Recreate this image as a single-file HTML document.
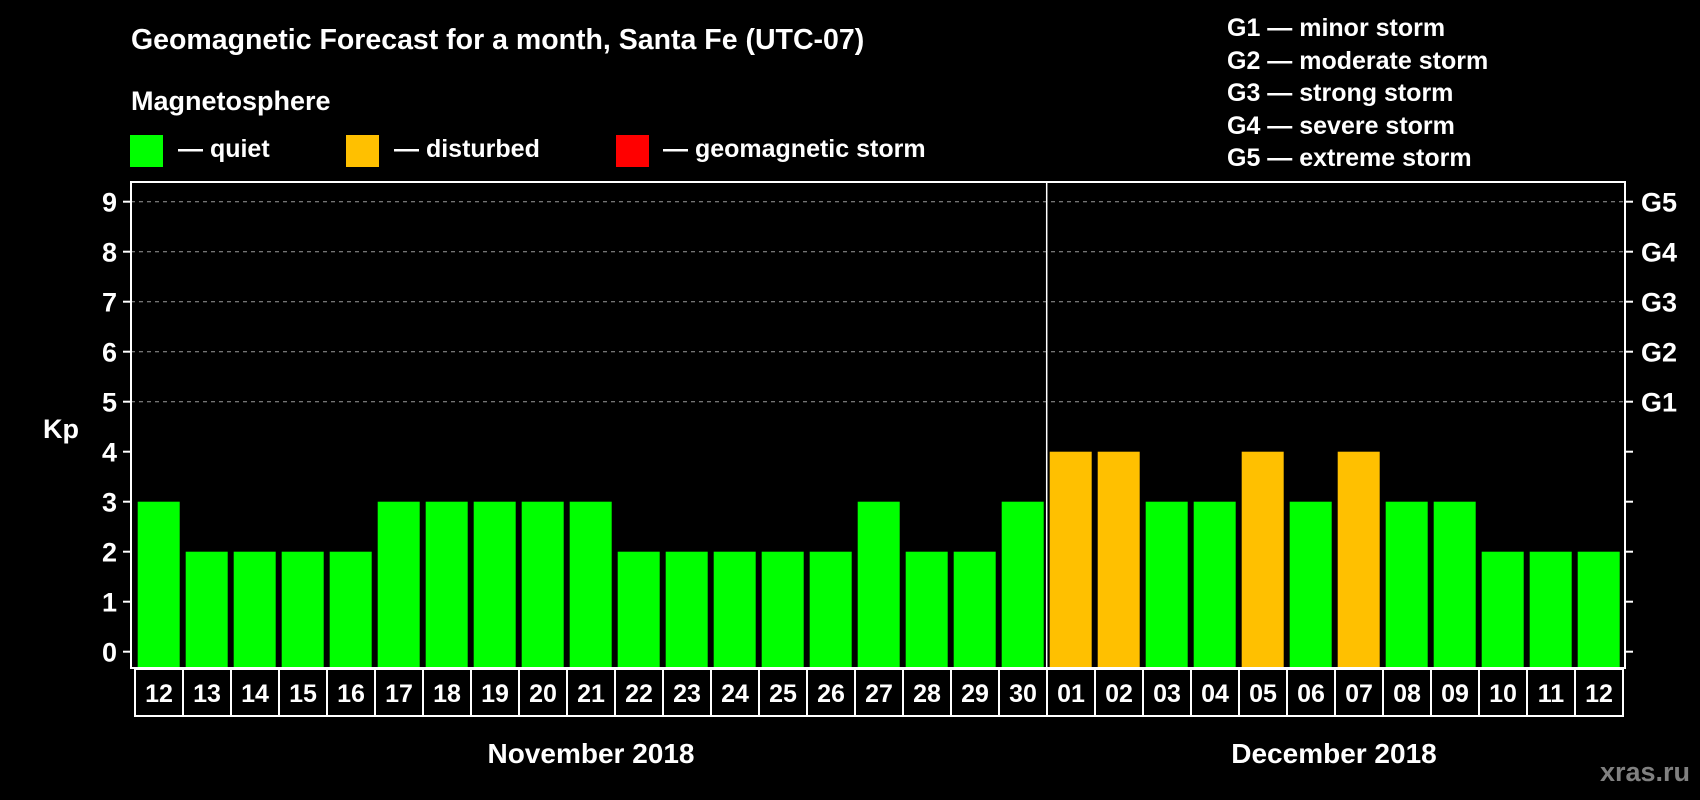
<!DOCTYPE html>
<html><head><meta charset="utf-8">
<style>
html,body{margin:0;padding:0;background:#000;}
svg{display:block;font-family:"Liberation Sans",sans-serif;font-weight:bold;}
</style></head>
<body>
<svg id="chart" width="1700" height="800" viewBox="0 0 1700 800" xmlns="http://www.w3.org/2000/svg">
<rect width="1700" height="800" fill="#000"/>
<text x="131" y="49" font-size="28.5" fill="#fff">Geomagnetic Forecast for a month, Santa Fe (UTC-07)</text>
<text x="131" y="110" font-size="27" fill="#fff">Magnetosphere</text>
<g>
<rect x="130" y="135" width="33" height="32" fill="#00ff00"/>
<text x="178" y="157" font-size="25" fill="#fff">— quiet</text>
</g>
<g>
<rect x="346" y="135" width="33" height="32" fill="#ffc000"/>
<text x="394" y="157" font-size="25" fill="#fff">— disturbed</text>
</g>
<g>
<rect x="616" y="135" width="33" height="32" fill="#ff0000"/>
<text x="663" y="157" font-size="25" fill="#fff">— geomagnetic storm</text>
</g>
<g font-size="25" fill="#fff">
<text x="1227" y="36">G1 — minor storm</text>
<text x="1227" y="69">G2 — moderate storm</text>
<text x="1227" y="101">G3 — strong storm</text>
<text x="1227" y="134">G4 — severe storm</text>
<text x="1227" y="166">G5 — extreme storm</text>
</g>
<text x="43" y="438" font-size="27" fill="#fff">Kp</text>
<g id="plot"></g>
<text x="591" y="763" font-size="28" fill="#fff" text-anchor="middle">November 2018</text>
<text x="1334" y="763" font-size="28" fill="#fff" text-anchor="middle">December 2018</text>
<text x="1690" y="781" font-size="27" fill="#808080" text-anchor="end">xras.ru</text>
</svg>
<script>
const days = ["12","13","14","15","16","17","18","19","20","21","22","23","24","25","26","27","28","29","30","01","02","03","04","05","06","07","08","09","10","11","12"];
const kpValues = [3,2,2,2,2,3,3,3,3,3,2,2,2,2,2,3,2,2,3,4,4,3,3,4,3,4,3,3,2,2,2];
const yTicks = [0,1,2,3,4,5,6,7,8,9];
const gLabels = ["G1","G2","G3","G4","G5"];
const gLevels = [5,6,7,8,9];

const NS = "http://www.w3.org/2000/svg";
const plot = document.getElementById("plot");
const pl = 131, pr = 1625, pt = 182, pb = 668;
const x0 = 137.7, step = 48;
function yScale(v){ return 651.7 - v * 50; }
function xScale(i){ return x0 + i * step; }
function mk(tag, attrs){ const e = document.createElementNS(NS, tag); for (const k in attrs) e.setAttribute(k, attrs[k]); plot.appendChild(e); return e; }

// grid lines
gLevels.forEach((g, i) => {
  const l = mk("line", {x1: pl, x2: pr, y1: yScale(g), y2: yScale(g), stroke: "#9a9a9a", "stroke-width": 1, "stroke-dasharray": "4,4"});
  
  
  const t = mk("text", {x: 1641, y: yScale(g) + 10, "font-size": 27, fill: "#fff"});
  t.textContent = gLabels[i];
  
  
});
// y ticks and labels
yTicks.forEach(v => {
  const y = yScale(v);
  const tl = mk("line", {x1: pl - 8, x2: pl, y1: y, y2: y, stroke: "#fff", "stroke-width": 2});
  
  
  const tr = mk("line", {x1: pr, x2: pr + 8, y1: y, y2: y, stroke: "#fff", "stroke-width": 2});
  
  
  const t = mk("text", {x: 117, y: y + 10, "font-size": 27, fill: "#fff", "text-anchor": "end"});
  t.textContent = v;
  
  
});
// bars
const n = Math.min(days.length, kpValues.length);
for (let i = 0; i < n; i++) {
  const v = kpValues[i];
  const r = mk("rect", {x: xScale(i), y: yScale(v), width: 42, height: pb - yScale(v), fill: v >= 5 ? "#ff0000" : (v >= 4 ? "#ffc000" : "#00ff00")});
  
  
  const c = mk("rect", {x: 135 + i * step, y: 669, width: step, height: 47, fill: "none", stroke: "#fff", "stroke-width": 2});
  
  
  const t = mk("text", {x: 135 + i * step + step / 2, y: 702, "font-size": 25, fill: "#fff", "text-anchor": "middle"});
  t.textContent = days[i];
  
  
}
// month separator
const sepIdx = days.indexOf("01");
const sep = mk("line", {x1: xScale(sepIdx) - 3, x2: xScale(sepIdx) - 3, y1: pt, y2: pb, stroke: "#fff", "stroke-width": 1.5});


// frame
const fr = mk("rect", {x: pl, y: pt, width: pr - pl, height: pb - pt, fill: "none", stroke: "#fff", "stroke-width": 2});


</script>
</body></html>
